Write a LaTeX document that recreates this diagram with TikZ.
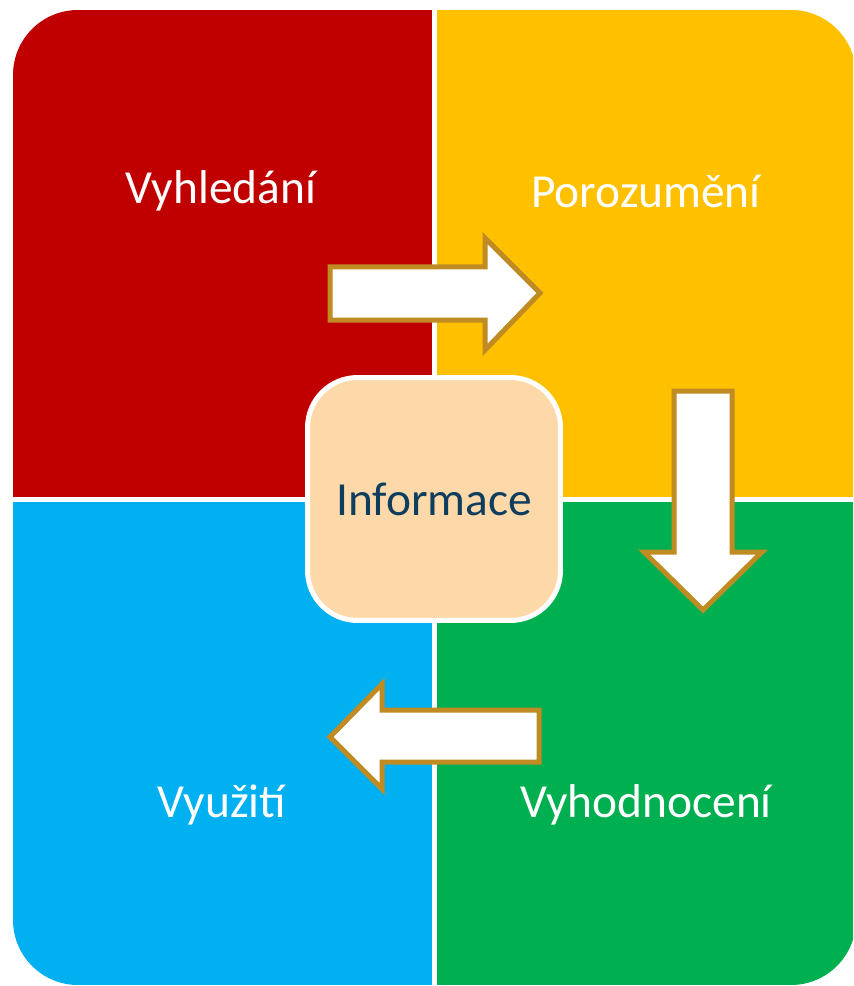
\documentclass[tikz,border=0pt]{standalone}
\usepackage{fontspec}
\setmainfont{Carlito}
\usepackage{xcolor}
\definecolor{qred}{HTML}{C00000}
\definecolor{qyellow}{HTML}{FFC000}
\definecolor{qgreen}{HTML}{00B050}
\definecolor{qblue}{HTML}{00B0F0}
\definecolor{peach}{HTML}{FDD9AA}
\definecolor{gold}{HTML}{BF8B22}
\definecolor{ink}{HTML}{0E3D5E}
\tikzset{
  label text/.style={text=white, font=\fontsize{27}{32}\selectfont},
  flow arrow/.style={draw=gold, fill=white, line width=0.1cm, line join=miter}
}
\begin{document}
\begin{tikzpicture}[x=0.02cm, y=-0.02cm]
\useasboundingbox (0,0) rectangle (853,986);
% Quadrants
\begin{scope}
\clip (0,0) rectangle (853,986);
\clip[rounded corners=1.3cm] (13,10) rectangle (856,985);
\fill[qred] (13,10) rectangle (434,499);
\fill[qyellow] (434,10) rectangle (856,499);
\fill[qblue] (13,499) rectangle (434,985);
\fill[qgreen] (434,499) rectangle (856,985);
\end{scope}
% Gaps
\draw[white, line width=0.1cm] (434.5,10) -- (434.5,985);
\draw[white, line width=0.1cm] (13,499.5) -- (853,499.5);
% Labels
\node[label text] (find) at (221,191) {Vyhledání};
\node[label text] (grasp) at (646,191) {Porozumění};
\node[label text] (use) at (222,805) {Využití};
\node[label text] (judge) at (646,805) {Vyhodnocení};
% Arrows
\draw[flow arrow] (330,267) -- (485,267) -- (485,238) -- (540,293)
  -- (485,350) -- (485,320) -- (330,320) -- cycle;
\draw[flow arrow] (674,391) -- (732,391) -- (732,552) -- (762,552)
  -- (703,610) -- (644,552) -- (674,552) -- cycle;
\draw[flow arrow] (539,710) -- (382,710) -- (382,684) -- (330,737)
  -- (382,789) -- (382,762) -- (539,762) -- cycle;
% Centre
\node[draw=white, line width=0.1cm, fill=peach, rounded corners=1cm,
  minimum width=5.06cm, minimum height=4.86cm, text=ink,
  font=\fontsize{27}{32}\selectfont] (info) at (434,499) {Informace};
\end{tikzpicture}
\end{document}
